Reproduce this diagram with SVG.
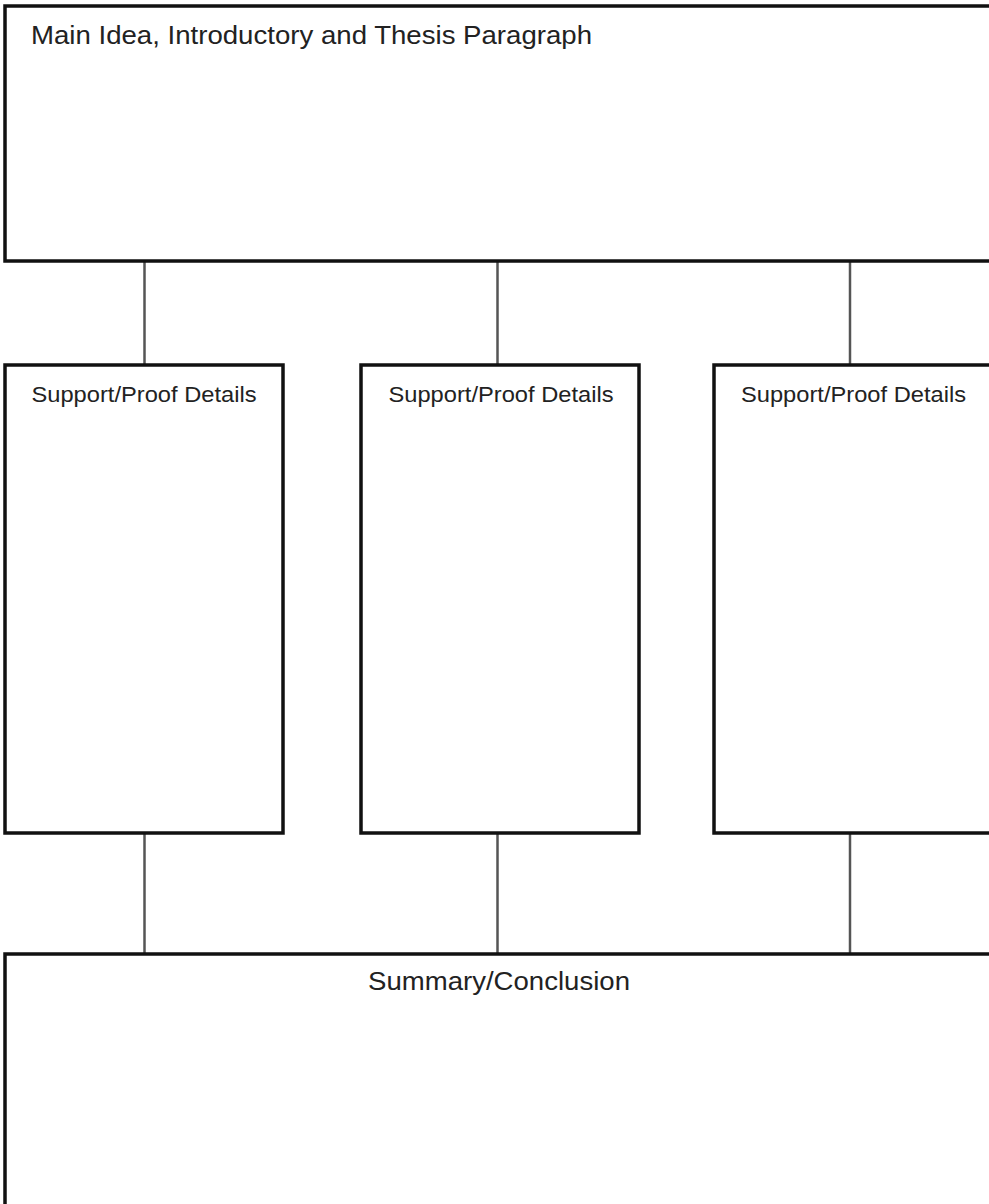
<svg xmlns="http://www.w3.org/2000/svg" width="989" height="1204" viewBox="0 0 989 1204">
<style>
.box{fill:#fff;stroke:#111;stroke-width:3.5}
.conn{stroke:#555;stroke-width:2.5;fill:none}
.t{font-family:"Liberation Sans",Arial,sans-serif;fill:#222}
.big{font-size:25px}
.small{font-size:22.5px;text-anchor:middle}
</style>
<rect width="989" height="1204" fill="#fff"/>
<g id="connectors">
<line class="conn" x1="144.5" y1="261" x2="144.5" y2="365"/>
<line class="conn" x1="497.5" y1="261" x2="497.5" y2="365"/>
<line class="conn" x1="850" y1="261" x2="850" y2="365"/>
<line class="conn" x1="144.5" y1="833" x2="144.5" y2="954"/>
<line class="conn" x1="497.5" y1="833" x2="497.5" y2="954"/>
<line class="conn" x1="850" y1="833" x2="850" y2="954"/>
</g>
<g id="main">
<rect class="box" x="5" y="6" width="1000" height="255"/>
<text class="t big" x="31" y="44" textLength="561" lengthAdjust="spacingAndGlyphs">Main Idea, Introductory and Thesis Paragraph</text>
</g>
<g id="support1">
<rect class="box" x="5" y="365" width="278" height="468"/>
<text class="t small" x="144" y="402" textLength="225" lengthAdjust="spacingAndGlyphs">Support/Proof Details</text>
</g>
<g id="support2">
<rect class="box" x="361" y="365" width="278" height="468"/>
<text class="t small" x="501" y="402" textLength="225" lengthAdjust="spacingAndGlyphs">Support/Proof Details</text>
</g>
<g id="support3">
<rect class="box" x="714" y="365" width="278" height="468"/>
<text class="t small" x="853.5" y="402" textLength="225" lengthAdjust="spacingAndGlyphs">Support/Proof Details</text>
</g>
<g id="summary">
<rect class="box" x="5" y="954" width="1000" height="400"/>
<text class="t big" x="499" y="990" text-anchor="middle" textLength="262" lengthAdjust="spacingAndGlyphs">Summary/Conclusion</text>
</g>
</svg>
